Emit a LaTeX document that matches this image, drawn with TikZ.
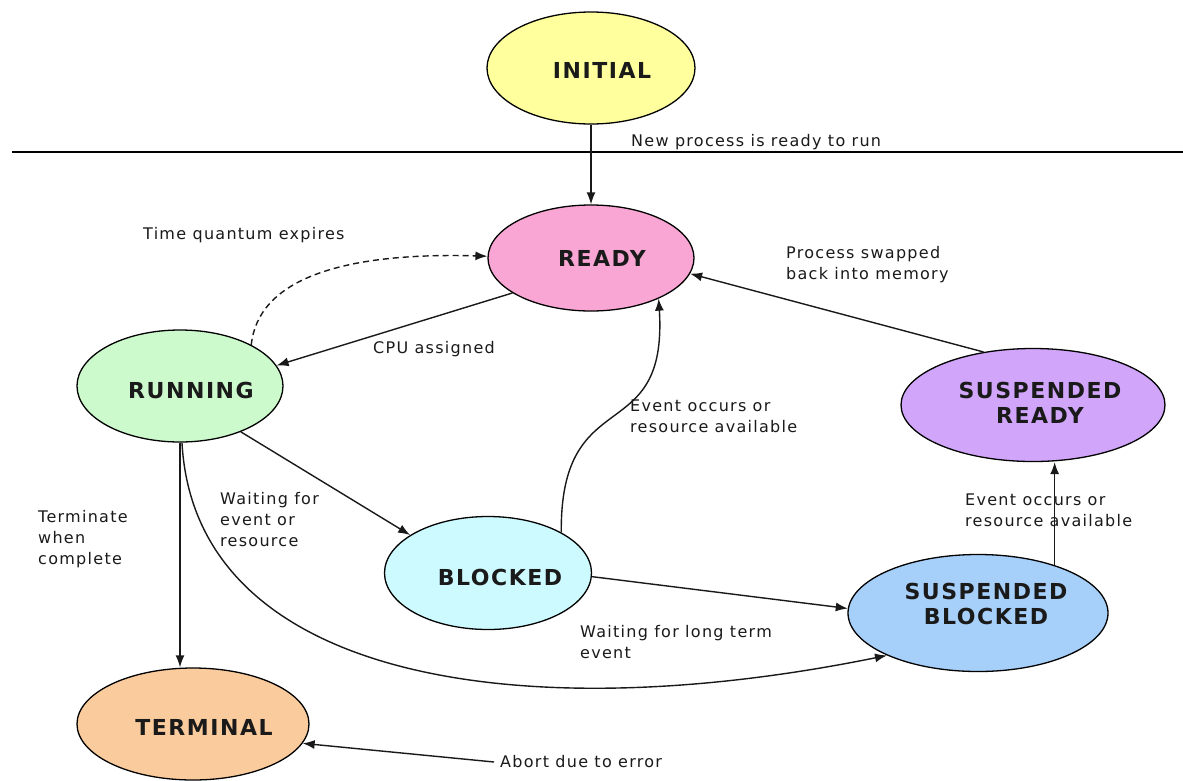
\documentclass[tikz,border=0pt]{standalone}
\usepackage{fontspec}
\setmainfont{DejaVu Sans}
\newfontfamily\lblfont[LetterSpace=8]{DejaVu Sans}
\newfontfamily\stfont[LetterSpace=7]{DejaVu Sans}
\usetikzlibrary{shapes.geometric, arrows.meta}
\definecolor{cinit}{HTML}{FFFF9E}
\definecolor{cready}{HTML}{F9A6D4}
\definecolor{crun}{HTML}{CCFACC}
\definecolor{cblk}{HTML}{CCFAFF}
\definecolor{cterm}{HTML}{FACB9C}
\definecolor{csb}{HTML}{A6CFFA}
\definecolor{csr}{HTML}{D1A6FA}
\definecolor{ctext}{HTML}{1A1A1A}
\tikzset{
  state/.style={ellipse, draw=black, line width=1.3pt, inner sep=0pt},
  sname/.style={font=\stfont\bfseries\fontsize{22}{25}\selectfont, text=ctext, align=center, inner sep=0pt},
  edge/.style={line width=1.4pt, draw=black!90, -{Latex[length=12pt,width=9pt]}},
  lbl/.style={font=\lblfont\fontsize{16}{21}\selectfont, text=ctext, align=left, inner sep=0pt, anchor=west}
}
\begin{document}
\begin{tikzpicture}[x=1pt,y=-1pt]
\fill[white] (0,0) rectangle (1183,780);
\useasboundingbox (0,0) rectangle (1183,780);

% divider line
\draw[line width=1.5pt] (12,152) -- (1183,152);

% states
\node[state, fill=cinit, minimum width=208pt, minimum height=112pt,
      label={[sname, xshift=11pt, yshift=-2pt]center:INITIAL}] (init) at (591,68) {};
\node[state, fill=cready, minimum width=206pt, minimum height=106pt,
      label={[sname, xshift=11pt]center:READY}] (ready) at (591,258) {};
\node[state, fill=crun, minimum width=206pt, minimum height=112pt,
      label={[sname, xshift=11pt, yshift=-4pt]center:RUNNING}] (run) at (180,386) {};
\node[state, fill=cblk, minimum width=207pt, minimum height=113pt,
      label={[sname, xshift=12pt, yshift=-4pt]center:BLOCKED}] (blk) at (488,573) {};
\node[state, fill=cterm, minimum width=232pt, minimum height=112pt,
      label={[sname, xshift=11pt, yshift=-3pt]center:TERMINAL}] (term) at (193,724) {};
\node[state, fill=csb, minimum width=260pt, minimum height=117pt,
      label={[sname, xshift=8pt, yshift=9pt]center:{SUSPENDED\\BLOCKED}}] (sb) at (978,613) {};
\node[state, fill=csr, minimum width=264pt, minimum height=113pt,
      label={[sname, xshift=7pt, yshift=2pt]center:{SUSPENDED\\READY}}] (sr) at (1033,405) {};

% labels
\node[lbl] (lnew) at (631,142) {New process is ready to run};
\node[lbl] (ltq) at (143,235) {Time quantum expires};
\node[lbl] (lcpu) at (373,349) {CPU assigned};
\node[lbl] (lswap) at (786,265) {Process swapped\\back into memory};
\node[lbl] (lev1) at (630,416) {Event occurs or\\resource available};
\node[lbl] (lwait) at (220,520) {Waiting for\\event or\\resource};
\node[lbl] (lterm) at (38,539) {Terminate\\when\\complete};
\node[lbl] (llong) at (580,642) {Waiting for long term\\event};
\node[lbl] (lev2) at (965,510) {Event occurs or\\resource available};
\node[lbl] (abort) at (500,762) {Abort due to error};

% connectors
\draw[edge] (init.south) -- (ready.north);
\draw[edge] (ready.204) -- (run.12);
\draw[edge, dash pattern=on 6pt off 4pt] (run.30) .. controls (258,280) and (340,252) .. (ready.179);
\draw[edge] (run.-37) -- (blk.154);
\draw[edge] (run.south) -- (run.south |- term.north);
\draw[edge] (run.-88) .. controls (195,680) and (520,730) .. (sb.205);
\draw[edge] (blk.358) -- (sb.178);
\draw[edge] (blk.29) .. controls (560,380) and (668,450) .. (ready.-31);
\draw[edge] (sb.32) -- (sb.32 |- sr.south);
\draw[edge] (sr.133) -- (ready.-9);
\draw[edge] ([xshift=-6pt]abort.west) -- (term.-10);
\end{tikzpicture}
\end{document}
